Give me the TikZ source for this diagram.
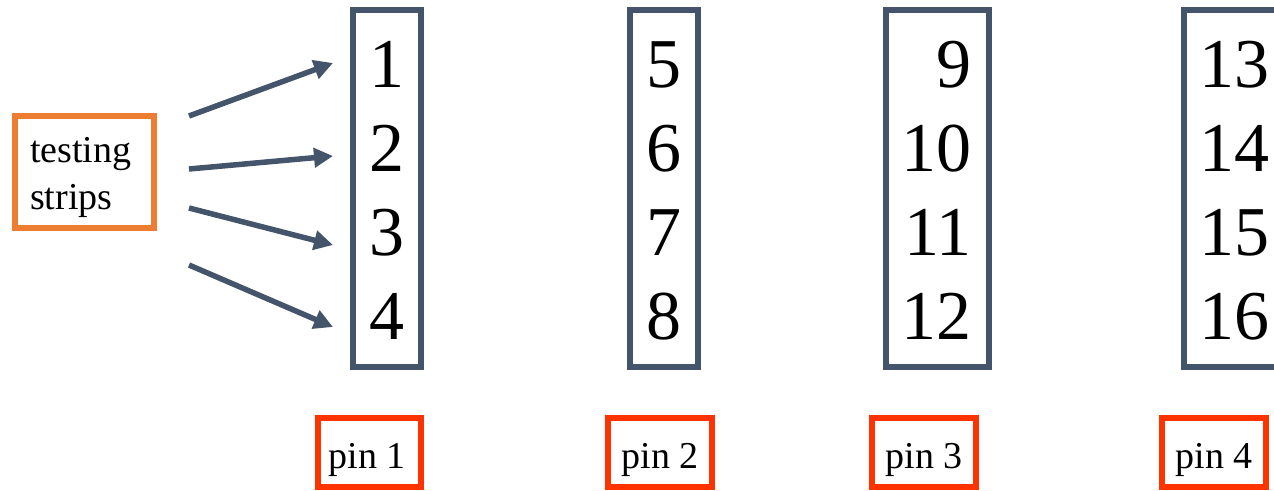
\documentclass[tikz,border=0pt]{standalone}
\usepackage{fontspec}
\setmainfont{Liberation Serif}
\newfontfamily\numfont{Liberation Serif}
\usetikzlibrary{arrows.meta}
\definecolor{slate}{HTML}{44546A}
\definecolor{tsorange}{HTML}{ED7D31}
\definecolor{pinred}{HTML}{FF3300}
\tikzset{
  colbox/.style={draw=slate, line width=6pt, inner sep=0pt, minimum height=357pt},
  pinbox/.style={draw=pinred, line width=6pt, inner sep=0pt, minimum height=69pt},
  bignum/.style={inner sep=0pt, font=\numfont\fontsize{70pt}{84pt}\selectfont, text=black},
  pintext/.style={inner sep=0pt, font=\numfont\fontsize{38pt}{46pt}\selectfont, text=black},
  feed/.style={draw=slate, line width=5.5pt, -{Triangle[length=19pt,width=19pt]}}
}
\begin{document}
\begin{tikzpicture}[x=1pt,y=-1pt]
\useasboundingbox (0,0) rectangle (1274,490);
\clip (0,0) rectangle (1274,490);
% testing strips
\node[draw=tsorange, line width=6pt, inner sep=0pt, minimum width=139pt, minimum height=112pt] (ts) at (84.5,172) {};
\node[pintext, anchor=base west, align=left, font=\numfont\fontsize{38pt}{47pt}\selectfont] (tstext) at (30,209) {testing\\strips};
% columns
\node[colbox, minimum width=68pt] (c1) at (387,188.5) {};
\node[colbox, minimum width=68pt] (c2) at (664,188.5) {};
\node[colbox, minimum width=103pt] (c3) at (937.5,188.5) {};
\node[colbox, minimum width=103pt] (c4) at (1235.5,188.5) {};
% numbers
\node[bignum, anchor=base] (n1) at (387,87) {1};
\node[bignum, anchor=base] (n2) at (387,171) {2};
\node[bignum, anchor=base] (n3) at (387,255) {3};
\node[bignum, anchor=base] (n4) at (387,339) {4};
\node[bignum, anchor=base] (n5) at (664,87) {5};
\node[bignum, anchor=base] (n6) at (664,171) {6};
\node[bignum, anchor=base] (n7) at (664,255) {7};
\node[bignum, anchor=base] (n8) at (664,339) {8};
\node[bignum, anchor=base east] (n9) at (972,87) {9};
\node[bignum, anchor=base east] (n10) at (972,171) {10};
\node[bignum, anchor=base east] (n11) at (972,255) {11};
\node[bignum, anchor=base east] (n12) at (972,339) {12};
\node[bignum, anchor=base west] (n13) at (1199,87) {13};
\node[bignum, anchor=base west] (n14) at (1199,171) {14};
\node[bignum, anchor=base west] (n15) at (1199,255) {15};
\node[bignum, anchor=base west] (n16) at (1199,339) {16};
% pins
\node[pinbox, minimum width=103pt] (p1) at (369.5,452.5) {};
\node[pinbox, minimum width=104pt] (p2) at (660,452.5) {};
\node[pinbox, minimum width=104pt] (p3) at (924,452.5) {};
\node[pinbox, minimum width=104pt] (p4) at (1214,452.5) {};
\node[pintext, anchor=base] (p1t) at (367,468) {pin 1};
\node[pintext, anchor=base] (p2t) at (660,468) {pin 2};
\node[pintext, anchor=base] (p3t) at (924,468) {pin 3};
\node[pintext, anchor=base] (p4t) at (1214,468) {pin 4};
% arrows
\coordinate (s1) at (189,116); \coordinate (e1) at (333,63);
\coordinate (s2) at (189,169); \coordinate (e2) at (333,156);
\coordinate (s3) at (189,208); \coordinate (e3) at (333,245);
\coordinate (s4) at (189,265); \coordinate (e4) at (333,327);
\draw[feed] (s1) -- (e1);
\draw[feed] (s2) -- (e2);
\draw[feed] (s3) -- (e3);
\draw[feed] (s4) -- (e4);
\end{tikzpicture}
\end{document}
